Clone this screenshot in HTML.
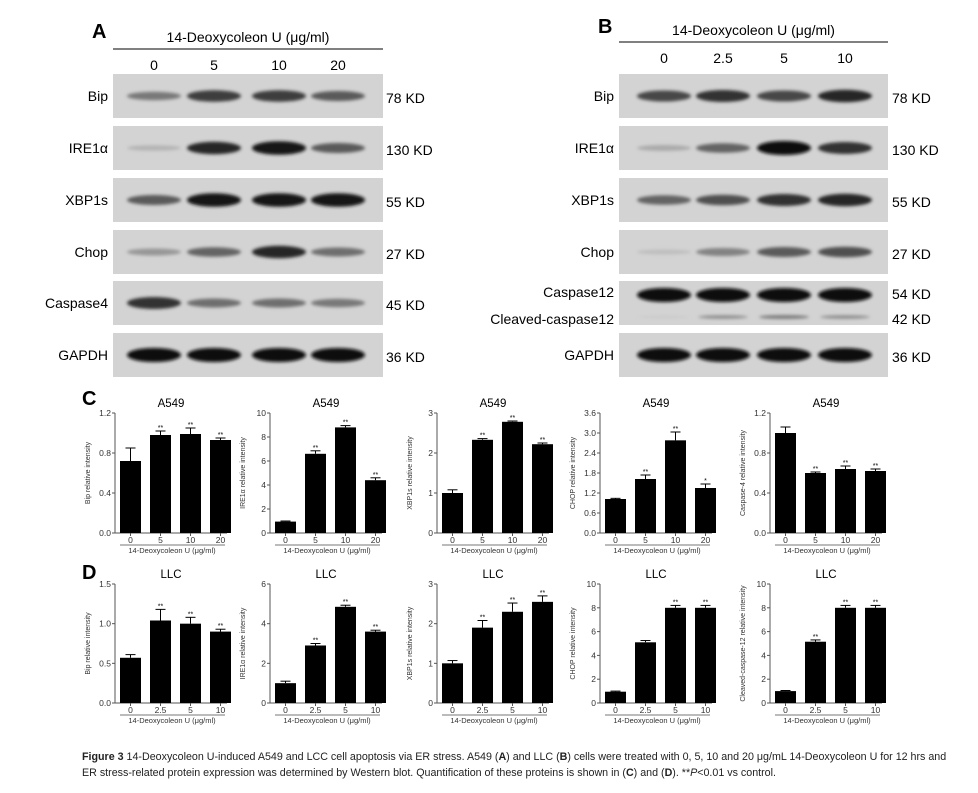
<!DOCTYPE html>
<html><head><meta charset="utf-8"><style>
body{margin:0;background:#fff;width:978px;height:793px;overflow:hidden;font-family:"Liberation Sans",sans-serif}
#cap{position:absolute;left:82px;top:749px;width:880px;font-size:10.7px;line-height:16px;color:#222}
</style></head><body>
<svg id="fig" width="978" height="750" style="position:absolute;left:0;top:0" font-family="Liberation Sans, sans-serif">
<defs><filter id="bl" x="-20%" y="-100%" width="140%" height="300%"><feGaussianBlur stdDeviation="1.6"/></filter></defs>
<g id="blots"></g><g id="charts"></g>
</svg>
<div id="cap"><b>Figure 3</b> 14-Deoxycoleon U-induced A549 and LCC cell apoptosis via ER stress. A549 (<b>A</b>) and LLC (<b>B</b>) cells were treated with 0, 5, 10 and 20 μg/mL 14-Deoxycoleon U for 12 hrs and ER stress-related protein expression was determined by Western blot. Quantification of these proteins is shown in (<b>C</b>) and (<b>D</b>). **<i>P</i>&lt;0.01 vs control.</div>
<script>
const NS="http://www.w3.org/2000/svg";
function mk(p,t,a,txt){const e=document.createElementNS(NS,t);for(const k in a)e.setAttribute(k,a[k]);if(txt!=null)e.textContent=txt;p.appendChild(e);return e;}
// ---- Western blots ----
const blotA_lanes=["0","5","10","20"];
const blotA_rows=["Bip","IRE1α","XBP1s","Chop","Caspase4","GAPDH"];
const blotA_kd=["78 KD","130 KD","55 KD","27 KD","45 KD","36 KD"];
const blotA_int=[[0.45,0.75,0.75,0.6],[0.15,0.85,0.95,0.6],[0.6,0.95,0.95,0.95],[0.3,0.55,0.85,0.5],[0.8,0.5,0.5,0.45],[1,1,1,1]];
const blotB_lanes=["0","2.5","5","10"];
const blotB_rows=["Bip","IRE1α","XBP1s","Chop","Caspase12","GAPDH"];
const blotB_kd=["78 KD","130 KD","55 KD","27 KD","54 KD","36 KD"];
const blotB_int=[[0.7,0.8,0.7,0.85],[0.2,0.55,1,0.8],[0.55,0.65,0.8,0.85],[0.1,0.4,0.6,0.65],[1,1,1,1],[1,1,1,1]];
const blotB_cleaved=[0.05,0.35,0.45,0.35];
const rowsY=[74,126,178,230,281,333];
const bg=document.getElementById('blots');
function blot(letter,lx,ly,x0,x1,lineY,titleY,laneY,lanesX,rows,kd,ints,labelX,kdX){
  const T=mk(bg,'text',{x:lx,y:ly,'font-size':20,'font-weight':'bold'},letter);
  
  
  const h=mk(bg,'text',{x:(x0+x1)/2,y:titleY,'font-size':14,'text-anchor':'middle'},'14-Deoxycoleon U (μg/ml)');
  
  
  mk(bg,'line',{x1:x0,x2:x1,y1:lineY,y2:lineY,stroke:'#000','stroke-width':1});
  lanesX.forEach((x,i)=>{const t=mk(bg,'text',{x:x,y:laneY,'font-size':14,'text-anchor':'middle'},(letter=='A'?blotA_lanes:blotB_lanes)[i]);
    
    });
  rows.forEach((r,ri)=>{
    const y=rowsY[ri],hgt=44;
    const rect=mk(bg,'rect',{x:x0,y:y,width:x1-x0,height:hgt,fill:'#d3d3d3'});
    
    
    const cy=(letter=='B'&&ri==4)?y+14:y+hgt/2;
    ints[ri].forEach((v,li)=>{
      const g=Math.round(210-200*v);
      mk(bg,'ellipse',{cx:lanesX[li],cy:cy,rx:27,ry:2+5*v,fill:`rgb(${g},${g},${g})`,filter:'url(#bl)'});
    });
    const l=mk(bg,'text',{x:labelX,y:(letter=='B'&&ri==4)?y+16:y+hgt/2+5,'font-size':14,'text-anchor':'end'},r);
    
    
    const k=mk(bg,'text',{x:kdX,y:(letter=='B'&&ri==4)?y+18:y+hgt/2+7,'font-size':14},kd[ri]);
    
    
    if(letter=='B'&&ri==4){
      blotB_cleaved.forEach((v,li)=>{const g=Math.round(210-200*v);
        mk(bg,'ellipse',{cx:lanesX[li],cy:y+36,rx:25,ry:1+2*v,fill:`rgb(${g},${g},${g})`,filter:'url(#bl)'});});
      const l2=mk(bg,'text',{x:labelX,y:y+43,'font-size':14,'text-anchor':'end'},'Cleaved-caspase12');
      
      
      const k2=mk(bg,'text',{x:kdX,y:y+43,'font-size':14},'42 KD');
      
      
    }
  });
}
blot('A',92,38,113,383,49,42,70,[154,214,279,338],blotA_rows,blotA_kd,blotA_int,108,386);
blot('B',598,33,619,888,42,35,63,[664,723,784,845],blotB_rows,blotB_kd,blotB_int,614,892);

// ---- Bar charts ----
const cTitle="A549", dTitle="LLC";
const cCats=["0","5","10","20"], dCats=["0","2.5","5","10"];
const c1Vals=[0.72,0.98,0.99,0.93], c1Err=[0.13,0.04,0.06,0.02], c1Ticks=[0,0.4,0.8,1.2], c1Stars=["","**","**","**"];
const c2Vals=[0.95,6.6,8.8,4.4], c2Err=[0.05,0.25,0.15,0.2], c2Ticks=[0,2,4,6,8,10], c2Stars=["","**","**","**"];
const c3Vals=[1.0,2.33,2.78,2.22], c3Err=[0.08,0.03,0.02,0.03], c3Ticks=[0,1,2,3], c3Stars=["","**","**","**"];
const c4Vals=[1.02,1.62,2.78,1.35], c4Err=[0.02,0.12,0.25,0.12], c4Ticks=[0,0.6,1.2,1.8,2.4,3.0,3.6], c4Stars=["","**","**","*"];
const c5Vals=[1.0,0.6,0.64,0.62], c5Err=[0.06,0.01,0.03,0.02], c5Ticks=[0,0.4,0.8,1.2], c5Stars=["","**","**","**"];
const d1Vals=[0.57,1.04,1.0,0.9], d1Err=[0.04,0.14,0.08,0.03], d1Ticks=[0,0.5,1.0,1.5], d1Stars=["","**","**","**"];
const d2Vals=[1.0,2.9,4.85,3.6], d2Err=[0.1,0.1,0.08,0.07], d2Ticks=[0,2,4,6], d2Stars=["","**","**","**"];
const d3Vals=[1.0,1.9,2.3,2.55], d3Err=[0.07,0.18,0.22,0.15], d3Ticks=[0,1,2,3], d3Stars=["","**","**","**"];
const d4Vals=[0.95,5.1,8.0,8.0], d4Err=[0.05,0.15,0.2,0.2], d4Ticks=[0,2,4,6,8,10], d4Stars=["","","**","**"];
const d5Vals=[1.0,5.15,8.0,8.0], d5Err=[0.05,0.15,0.2,0.2], d5Ticks=[0,2,4,6,8,10], d5Stars=["","**","**","**"];
const cg=document.getElementById('charts');
function fmt(t,ticks){const dec=ticks.some(v=>v%1!==0);return dec?t.toFixed(1):String(t);}
function chart(name,ax,top,zero,title,cats,vals,errs,ticks,stars,ylab){
  const g=mk(cg,'g',{});
  
  
  const ymax=ticks[ticks.length-1];
  const y=v=>zero-(v/ymax)*(zero-top);
  const x=i=>ax+5+i*30;
  const tt=mk(g,'text',{x:ax+56,y:top-6,'font-size':11.5,'text-anchor':'middle'},title);
  
  
  mk(g,'line',{x1:ax,x2:ax,y1:top,y2:zero,stroke:'#555','stroke-width':1});
  mk(g,'line',{x1:ax,x2:ax+112,y1:zero,y2:zero,stroke:'#555','stroke-width':1});
  ticks.forEach(t=>{mk(g,'line',{x1:ax-3,x2:ax,y1:y(t),y2:y(t),stroke:'#555'});
    const tl=mk(g,'text',{x:ax-4,y:y(t)+3,'font-size':8.5,'text-anchor':'end',fill:'#333'},fmt(t,ticks));
    
    });
  vals.forEach((v,i)=>{
    const b=mk(g,'rect',{x:x(i),y:y(v),width:21,height:zero-y(v),fill:'#000'});
    
    
    const cx=x(i)+10.5,ey=y(v+errs[i]);
    mk(g,'line',{x1:cx,x2:cx,y1:y(v),y2:ey,stroke:'#000'});
    mk(g,'line',{x1:cx-5,x2:cx+5,y1:ey,y2:ey,stroke:'#000'});
    if(stars[i]){const s=mk(g,'text',{x:cx,y:ey-1,'font-size':7,'text-anchor':'middle'},stars[i]);
      
      }
    mk(g,'line',{x1:cx,x2:cx,y1:zero,y2:zero+3,stroke:'#555'});
    const xl=mk(g,'text',{x:cx,y:zero+10,'font-size':8.5,'text-anchor':'middle',fill:'#333'},cats[i]);
    
    
  });
  mk(g,'line',{x1:ax+5,x2:ax+110,y1:zero+12,y2:zero+12,stroke:'#777'});
  const xt=mk(g,'text',{x:ax+57,y:zero+20,'font-size':7.5,'text-anchor':'middle',fill:'#333'},'14-Deoxycoleon U (μg/ml)');
  
  
  const yc=(top+zero)/2;
  const yt=mk(g,'text',{x:ax-25,y:yc,'font-size':7,'text-anchor':'middle',fill:'#333',transform:`rotate(-90 ${ax-25} ${yc})`},ylab);
  
  
}
const axs=[115,270,437,600,770];
chart('chart-c-bip',axs[0],413,533,cTitle,cCats,c1Vals,c1Err,c1Ticks,c1Stars,'Bip relative intensity');
chart('chart-c-ire1a',axs[1],413,533,cTitle,cCats,c2Vals,c2Err,c2Ticks,c2Stars,'IRE1α relative intensity');
chart('chart-c-xbp1s',axs[2],413,533,cTitle,cCats,c3Vals,c3Err,c3Ticks,c3Stars,'XBP1s relative intensity');
chart('chart-c-chop',axs[3],413,533,cTitle,cCats,c4Vals,c4Err,c4Ticks,c4Stars,'CHOP relative intensity');
chart('chart-c-caspase4',axs[4],413,533,cTitle,cCats,c5Vals,c5Err,c5Ticks,c5Stars,'Caspase-4 relative intensity');
chart('chart-d-bip',axs[0],584,703,dTitle,dCats,d1Vals,d1Err,d1Ticks,d1Stars,'Bip relative intensity');
chart('chart-d-ire1a',axs[1],584,703,dTitle,dCats,d2Vals,d2Err,d2Ticks,d2Stars,'IRE1α relative intensity');
chart('chart-d-xbp1s',axs[2],584,703,dTitle,dCats,d3Vals,d3Err,d3Ticks,d3Stars,'XBP1s relative intensity');
chart('chart-d-chop',axs[3],584,703,dTitle,dCats,d4Vals,d4Err,d4Ticks,d4Stars,'CHOP relative intensity');
chart('chart-d-cleaved-caspase12',axs[4],584,703,dTitle,dCats,d5Vals,d5Err,d5Ticks,d5Stars,'Cleaved-caspase-12 relative intensity');
const lc=mk(cg,'text',{x:82,y:405,'font-size':20,'font-weight':'bold'},'C');


const ld=mk(cg,'text',{x:82,y:579,'font-size':20,'font-weight':'bold'},'D');


</script>
</body></html>
